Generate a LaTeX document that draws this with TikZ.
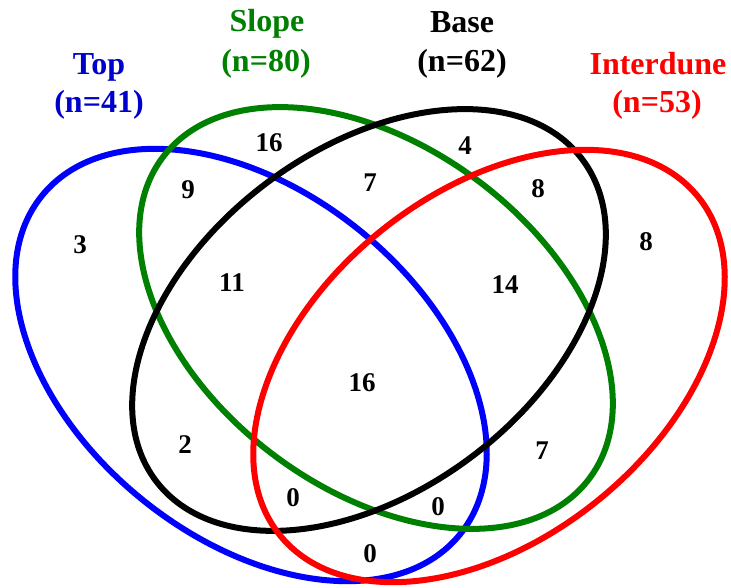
\documentclass[tikz,border=0pt]{standalone}
\usepackage{fontspec}
\setmainfont{Liberation Serif}
\usepackage{tikz}
\definecolor{topblue}{RGB}{0, 0, 255}
\definecolor{toptext}{RGB}{0, 0, 205}
\definecolor{slopegreen}{RGB}{0, 128, 0}
\definecolor{dunered}{RGB}{255, 0, 0}
\tikzset{
    setline/.style={line width=6pt},
    setname/.style={font=\fontsize{32}{38}\selectfont\bfseries, anchor=base, inner sep=0pt},
    count/.style={font=\fontsize{27}{30}\selectfont\bfseries, inner sep=0pt}
}

\begin{document}
\begin{tikzpicture}[x=1pt, y=1pt]
        \useasboundingbox (0,0) rectangle (731,588);
        % the four sets
        \draw[setline, topblue, rotate around={-39:(251,223)}] (251,223) ellipse (269pt and 173pt);
        \draw[setline, slopegreen, rotate around={-37:(376,270)}] (376,270) ellipse (267pt and 171pt);
        \draw[setline, black, rotate around={37:(369,268)}] (369,268) ellipse (267pt and 171pt);
        \draw[setline, dunered, rotate around={39:(489,222)}] (489,222) ellipse (269pt and 173pt);
        % set names
        \node[setname, toptext] (topname) at (99,513) {Top};
        \node[setname, toptext] (topn) at (99,475) {(n=41)};
        \node[setname, slopegreen] (slopename) at (267,556) {Slope};
        \node[setname, slopegreen] (slopen) at (266,516) {(n=80)};
        \node[setname, black] (basename) at (462,555) {Base};
        \node[setname, black] (basen) at (462,516) {(n=62)};
        \node[setname, dunered] (dunename) at (658,513) {Interdune};
        \node[setname, dunered] (dunen) at (657,475) {(n=53)};
        % counts
        \node[count] (onlytop) at (80,343) {3};
        \node[count] (topslope) at (188,398) {9};
        \node[count] (onlyslope) at (269,445) {16};
        \node[count] (slopebase) at (370,405) {7};
        \node[count] (onlybase) at (465,442) {4};
        \node[count] (basedune) at (538,399) {8};
        \node[count] (onlydune) at (646,346) {8};
        \node[count] (topslopebase) at (232,305) {11};
        \node[count] (slopebasedune) at (505,303) {14};
        \node[count] (allfour) at (362,205) {16};
        \node[count] (topbase) at (185,143) {2};
        \node[count] (slopedune) at (542,137) {7};
        \node[count] (topbasedune) at (293,90) {0};
        \node[count] (topslopedune) at (438,81) {0};
        \node[count] (topdune) at (370,34) {0};
    \end{tikzpicture}
\end{document}
